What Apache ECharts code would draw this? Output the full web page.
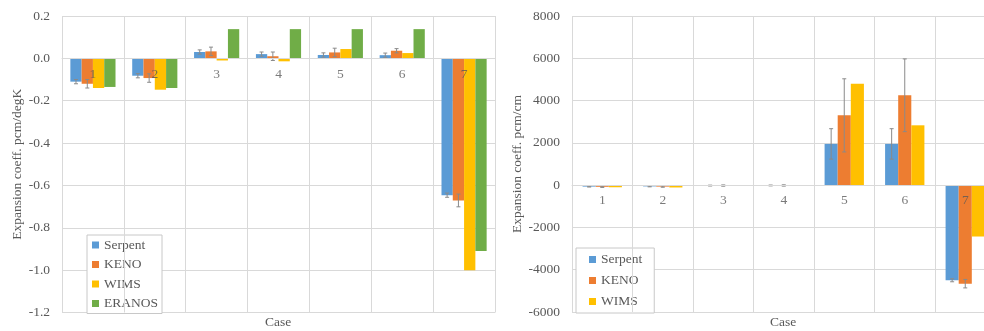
<!DOCTYPE html>
<html>
<head>
<meta charset="utf-8">
<script src="https://cdn.jsdelivr.net/npm/echarts@6/dist/echarts.min.js"></script>
<style>
  html, body { margin: 0; padding: 0; background: #fff; }
  #chart { width: 984px; height: 331px; }
</style>
</head>
<body>
<div id="chart"></div>
<script>
// Case numbers shared by both panels
var cases = ['1', '2', '3', '4', '5', '6', '7'];

// Temperature coefficient, pcm/degK
var tempSerpent = [-0.11, -0.082, 0.03, 0.02, 0.016, 0.015, -0.646];
var tempKeno    = [-0.12, -0.093, 0.033, 0.01, 0.028, 0.036, -0.671];
var tempWims    = [-0.14, -0.148, -0.01, -0.014, 0.044, 0.025, -1.0];
var tempEranos  = [-0.135, -0.14, 0.138, 0.138, 0.138, 0.138, -0.91];
var tempSerpentErr = [0.01, 0.01, 0.01, 0.01, 0.01, 0.01, 0.01];
var tempKenoErr    = [0.02, 0.02, 0.02, 0.02, 0.02, 0.01, 0.03];
var tempTicks = { min: -1.2, max: 0.2, step: 0.2 };

// Dimensional coefficient, pcm/cm
var dimSerpent = [-70, -60, -20, -15, 1950, 1950, -4500];
var dimKeno    = [-80, -70, -20, -15, 3300, 4250, -4660];
var dimWims    = [-100, -110, 0, 0, 4800, 2830, -2430];
var dimSerpentErr = [20, 20, 20, 20, 720, 720, 70];
var dimKenoErr    = [30, 30, 30, 30, 1730, 1720, 200];
var dimTicks = { min: -6000, max: 8000, step: 2000 };

var colors = { Serpent: '#5B9BD5', KENO: '#ED7D31', WIMS: '#FFC000', ERANOS: '#70AD47' };
var textColor = '#595959';
var gridColor = '#d9d9d9';
var serif = '"Liberation Serif", "DejaVu Serif", serif';

var leftGap = 0.27, rightGap = 0.35;

function errData(values, errs) {
  return values.map(function (v, i) { return [i, v, errs[i]]; });
}

// Draws a whisker over bar number `slot` of `count` bars in each category
function errorBars(slot, count, gap) {
  return function (params, api) {
    var idx = api.value(0), v = api.value(1), e = api.value(2);
    var base = api.coord([idx, v]);
    var band = api.size([1, 0])[0];
    var w = band * (1 - gap) / count;
    var x = base[0] + (slot - (count - 1) / 2) * w;
    var yTop = api.coord([idx, v + e])[1];
    var yBot = api.coord([idx, v - e])[1];
    var style = { stroke: '#8a8a8a', lineWidth: 1 };
    return {
      type: 'group',
      children: [
        { type: 'line', shape: { x1: x, y1: yTop, x2: x, y2: yBot }, style: style },
        { type: 'line', shape: { x1: x - 2, y1: yTop, x2: x + 2, y2: yTop }, style: style },
        { type: 'line', shape: { x1: x - 2, y1: yBot, x2: x + 2, y2: yBot }, style: style }
      ]
    };
  };
}

function catAxis(gridIndex) {
  return {
    type: 'category', gridIndex: gridIndex, data: cases, z: 5,
    axisLine: { onZero: true, lineStyle: { color: gridColor, width: 1 } },
    axisTick: { show: false },
    axisLabel: { show: false },
    splitLine: { show: true, lineStyle: { color: gridColor, width: 1 } }
  };
}

function valAxis(gridIndex, ticks, name, nameGap, digits) {
  return {
    type: 'value', gridIndex: gridIndex,
    min: ticks.min, max: ticks.max, interval: ticks.step,
    name: name, nameLocation: 'middle', nameGap: nameGap,
    nameTextStyle: { color: textColor, fontFamily: serif, fontSize: 13.5 },
    axisLine: { show: false }, axisTick: { show: false },
    axisLabel: {
      color: textColor, fontFamily: serif, fontSize: 13.5, margin: 12,
      formatter: function (v) { return v.toFixed(digits); }
    },
    splitLine: { lineStyle: { color: gridColor, width: 1 } }
  };
}

function bar(name, data, xi, gap) {
  return {
    name: name, type: 'bar', xAxisIndex: xi, yAxisIndex: xi, data: data,
    barGap: '0%', barCategoryGap: (gap * 100) + '%',
    itemStyle: { color: colors[name] }, z: 2
  };
}

function whisker(name, values, errs, xi, slot, count, gap) {
  return {
    name: name, type: 'custom', xAxisIndex: xi, yAxisIndex: xi,
    data: errData(values, errs), renderItem: errorBars(slot, count, gap),
    z: 4, silent: true, encode: { x: 0, y: 1 }
  };
}

// Case numbers written just under the zero line, above the bars
function caseLabels(xi, distance) {
  return {
    name: 'case labels', type: 'scatter', xAxisIndex: xi, yAxisIndex: xi,
    data: cases.map(function (c) { return [c, 0]; }),
    symbolSize: 0, silent: true, z: 6,
    label: {
      show: true, position: 'bottom', distance: distance,
      formatter: function (p) { return p.value[0]; },
      color: textColor, fontFamily: serif, fontSize: 13.5
    }
  };
}

function legendBox(names, left, top, gap, padding) {
  return {
    data: names, orient: 'vertical', left: left, top: top,
    itemWidth: 7, itemHeight: 7, itemGap: gap, itemTextGap: 4, icon: 'rect',
    padding: padding, borderColor: '#c8c8c8', borderWidth: 1, backgroundColor: '#fff',
    textStyle: { color: textColor, fontFamily: serif, fontSize: 13.5 }
  };
}

var chart = echarts.init(document.getElementById('chart'), null, { renderer: 'canvas' });

chart.setOption({
  animation: false,
  backgroundColor: '#fff',
  grid: [
    { left: 62, top: 16, width: 433, height: 296.5, outerBoundsMode: 'none' },
    { left: 572, top: 16, width: 423.5, height: 296, outerBoundsMode: 'none' }
  ],
  xAxis: [catAxis(0), catAxis(1)],
  yAxis: [
    valAxis(0, tempTicks, 'Expansion coeff. pcm/degK', 38, 1),
    valAxis(1, dimTicks, 'Expansion coeff. pcm/cm', 47, 0)
  ],
  legend: [
    legendBox(['Serpent', 'KENO', 'WIMS', 'ERANOS'], 87, 235, 5.5, [3, 4, 3, 5]),
    legendBox(['Serpent', 'KENO', 'WIMS'], 576, 248, 7, [4.5, 12, 4.5, 13])
  ],
  graphic: [
    { type: 'text', left: 279 - 14, top: 315, style: { text: 'Case', fill: textColor, font: '13.5px ' + serif } },
    { type: 'text', left: 784 - 14, top: 315, style: { text: 'Case', fill: textColor, font: '13.5px ' + serif } }
  ],
  series: [
    bar('Serpent', tempSerpent, 0, leftGap),
    bar('KENO', tempKeno, 0, leftGap),
    bar('WIMS', tempWims, 0, leftGap),
    bar('ERANOS', tempEranos, 0, leftGap),
    whisker('Serpent error', tempSerpent, tempSerpentErr, 0, 0, 4, leftGap),
    whisker('KENO error', tempKeno, tempKenoErr, 0, 1, 4, leftGap),
    caseLabels(0, 9),

    bar('Serpent', dimSerpent, 1, rightGap),
    bar('KENO', dimKeno, 1, rightGap),
    bar('WIMS', dimWims, 1, rightGap),
    whisker('Serpent error', dimSerpent, dimSerpentErr, 1, 0, 3, rightGap),
    whisker('KENO error', dimKeno, dimKenoErr, 1, 1, 3, rightGap),
    caseLabels(1, 8)
  ]
});
</script>
</body>
</html>
